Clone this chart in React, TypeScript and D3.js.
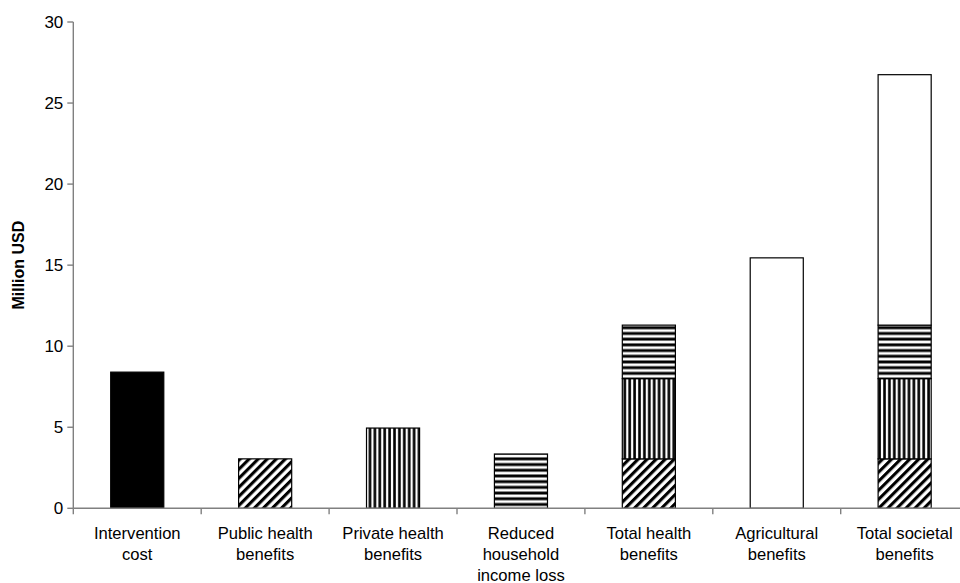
import React from 'react';
import * as d3 from 'd3';

const categories = [
  'Intervention cost',
  'Public health benefits',
  'Private health benefits',
  'Reduced household income loss',
  'Total health benefits',
  'Agricultural benefits',
  'Total societal benefits',
];

const categoryLabels = [
  ['Intervention', 'cost'],
  ['Public health', 'benefits'],
  ['Private health', 'benefits'],
  ['Reduced', 'household', 'income loss'],
  ['Total health', 'benefits'],
  ['Agricultural', 'benefits'],
  ['Total societal', 'benefits'],
];

// million USD, per category
const interventionCost = [8.4, 0, 0, 0, 0, 0, 0];
const publicHealth = [0, 3.05, 0, 0, 3.05, 0, 3.05];
const privateHealth = [0, 0, 4.95, 0, 4.95, 0, 4.95];
const householdIncome = [0, 0, 0, 3.35, 3.3, 0, 3.3];
const agricultural = [0, 0, 0, 0, 0, 15.45, 15.45];

const yTicks = [0, 5, 10, 15, 20, 25, 30];

const seriesKeys = ['cost', 'public', 'private', 'household', 'agri'];
const seriesFill: Record<string, string> = {
  cost: '#000',
  public: 'url(#diag)',
  private: 'url(#vert)',
  household: 'url(#horiz)',
  agri: '#fff',
};

const width = 960;
const height = 583;
const margin = { top: 22, left: 73.3, bottom: 508.3 };
const axisRight = margin.left + 7 * 127.9;
const font = '"Liberation Sans", Arial, sans-serif';

export default function App() {
  const rows = categories.map((c, i) => ({
    category: c,
    cost: interventionCost[i],
    public: publicHealth[i],
    private: privateHealth[i],
    household: householdIncome[i],
    agri: agricultural[i],
  }));

  const stacked = d3.stack<any>().keys(seriesKeys)(rows);

  const x = d3
    .scaleBand<string>()
    .domain(categories)
    .range([margin.left, axisRight])
    .paddingInner(0.585)
    .paddingOuter(0.2925);

  const y = d3.scaleLinear().domain([0, 30]).range([margin.bottom, margin.top]);
  const step = x.step();

  return (
    <svg
      width={width}
      height={height}
      style={{ position: 'absolute', left: 0, top: 0, background: '#fff' }}
    >
      <defs>
        <pattern id="diag" width={6.4} height={6.4} patternUnits="userSpaceOnUse" patternTransform="rotate(45)">
          <rect width={6.4} height={6.4} fill="#fff" />
          <rect width={3.1} height={6.4} fill="#000" />
        </pattern>
        <pattern id="vert" width={4.9} height={10} patternUnits="userSpaceOnUse">
          <rect width={4.9} height={10} fill="#fff" />
          <rect x={1.2} width={2.6} height={10} fill="#000" />
        </pattern>
        <pattern id="horiz" width={10} height={5.7} patternUnits="userSpaceOnUse">
          <rect width={10} height={5.7} fill="#fff" />
          <rect y={1.4} width={10} height={2.9} fill="#000" />
        </pattern>
      </defs>

      {/* bars */}
      {stacked.map((layer) =>
        layer.map((d, i) => {
          if (d[1] - d[0] <= 0) return null;
          const x0 = x(categories[i]) as number;
          return (
            <rect
              key={layer.key + i}
              x={x0}
              y={y(d[1])}
              width={x.bandwidth()}
              height={y(d[0]) - y(d[1])}
              fill={seriesFill[layer.key]}
              stroke="#000"
              strokeWidth={1.2}
            />
          );
        })
      )}

      {/* y axis */}
      <line x1={margin.left} x2={margin.left} y1={margin.top} y2={margin.bottom} stroke="#808080" strokeWidth={1.4} />
      {yTicks.map((t) => (
        <g key={t} transform={`translate(0,${y(t)})`}>
          <line x1={margin.left - 6} x2={margin.left} stroke="#808080" strokeWidth={1.4} />
          <text
            x={margin.left - 10}
            dy="0.35em"
            textAnchor="end"
            fontFamily={font}
            fontSize={17}
            fill="#000"
          >
            {t}
          </text>
        </g>
      ))}
      <text
        transform={`translate(24,${(margin.top + margin.bottom) / 2}) rotate(-90)`}
        textAnchor="middle"
        fontFamily={font}
        fontSize={16}
        fontWeight="bold"
        fill="#000"
      >
        Million USD
      </text>

      {/* x axis */}
      <line x1={margin.left} x2={axisRight} y1={margin.bottom} y2={margin.bottom} stroke="#808080" strokeWidth={1.4} />
      {categories.map((c, i) => (
        <line
          key={'t' + c}
          x1={margin.left + i * step}
          x2={margin.left + i * step}
          y1={margin.bottom}
          y2={margin.bottom + 6}
          stroke="#808080"
          strokeWidth={1.4}
        />
      ))}
      {categories.map((c, i) => (
        <text
          key={'l' + c}
          x={(x(c) as number) + x.bandwidth() / 2}
          y={539}
          textAnchor="middle"
          fontFamily={font}
          fontSize={16.6}
          fill="#000"
        >
          {categoryLabels[i].map((line, j) => (
            <tspan key={j} x={(x(c) as number) + x.bandwidth() / 2} dy={j === 0 ? 0 : 21}>
              {line}
            </tspan>
          ))}
        </text>
      ))}
    </svg>
  );
}
